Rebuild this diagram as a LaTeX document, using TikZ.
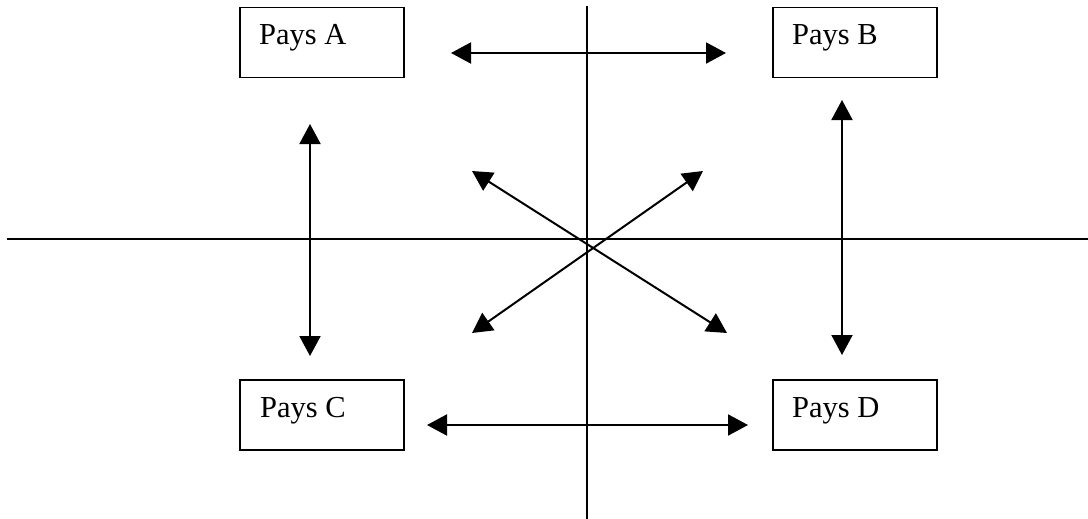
\documentclass[tikz,border=0pt]{standalone}
\usepackage{fontspec}
\setmainfont{Liberation Serif}
\usetikzlibrary{arrows.meta}
\begin{document}
\begin{tikzpicture}[x=1pt,y=-1pt,
  paysbox/.style={draw,line width=1.5pt,minimum width=164pt,minimum height=70pt,inner sep=0pt,anchor=north west},
  paystext/.style={anchor=base west,inner sep=0pt,font=\fontsize{30.5pt}{34pt}\selectfont},
  axis/.style={line width=1.5pt},
  dbl/.style={line width=2pt,{Triangle[length=20pt,width=21pt]}-{Triangle[length=20pt,width=21pt]}}]
\useasboundingbox (0,0) rectangle (1088,519);
% axes
\coordinate (vt) at (587,6);
\coordinate (vb) at (587,519);
\coordinate (hl) at (7,239);
\coordinate (hr) at (1088,239);
\draw[axis] (vt) -- (vb);
\draw[axis] (hl) -- (hr);
% boxes
\node[paysbox] (A) at (239,7) {};
\node[paysbox] (B) at (772,7) {};
\node[paysbox] (C) at (239,379) {};
\node[paysbox] (D) at (772,379) {};
\node[paystext] (tA) at (259,45) {Pays A};
\node[paystext] (tB) at (792,45) {Pays B};
\node[paystext] (tC) at (260,417) {Pays C};
\node[paystext] (tD) at (792,417) {Pays D};
% arrow end points
\coordinate (ab1) at (451,53);
\coordinate (ab2) at (726,53);
\coordinate (cd1) at (427,425);
\coordinate (cd2) at (748,425);
\coordinate (ac1) at (310,124);
\coordinate (ac2) at (310,356);
\coordinate (bd1) at (842,100);
\coordinate (bd2) at (842,355);
\coordinate (ad1) at (472,171);
\coordinate (ad2) at (727,333);
\coordinate (bc1) at (703,171);
\coordinate (bc2) at (472,333);
\draw[dbl] (ab1) -- (ab2);
\draw[dbl] (cd1) -- (cd2);
\draw[dbl] (ac1) -- (ac2);
\draw[dbl] (bd1) -- (bd2);
\draw[dbl] (ad1) -- (ad2);
\draw[dbl] (bc1) -- (bc2);
\end{tikzpicture}
\end{document}
